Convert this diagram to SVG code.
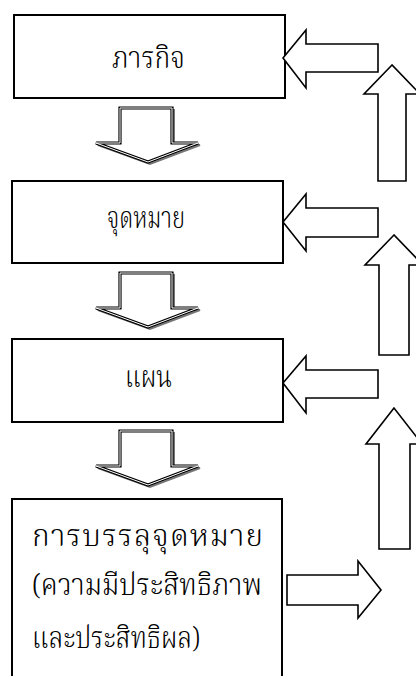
<svg xmlns="http://www.w3.org/2000/svg" width="416" height="676" viewBox="0 0 416 676">
<defs>
<style>
.box{fill:#fff;stroke:#000;stroke-width:2}
.arr{fill:#fff;stroke:#000;stroke-width:1.6;stroke-linejoin:miter}
.dshadow{fill:none;stroke:#777;stroke-width:2}
.dout{fill:#fff;stroke:#000;stroke-width:3.2}
.din{fill:none;stroke:#fff;stroke-width:1}
.t{font-family:"Norasi","Tlwg Typo","Noto Serif Thai","Noto Sans Thai","Liberation Serif","DejaVu Serif",serif;font-size:30px;font-weight:300;fill:#000}
</style>
<polygon id="down" points="120,108 172,108 172,143 198,143 148,162 96,143 120,143"/>
</defs>
<rect width="416" height="676" fill="#fff"/>
<g id="node-mission">
<rect class="box" x="14" y="15" width="271" height="83"/>
<text class="t" x="112" y="68" textLength="73" lengthAdjust="spacingAndGlyphs">ภารกิจ</text>
</g>
<g id="node-goal">
<rect class="box" x="12" y="181" width="271" height="82"/>
<text class="t" x="107" y="228" textLength="78" lengthAdjust="spacingAndGlyphs">จุดหมาย</text>
</g>
<g id="node-plan">
<rect class="box" x="12" y="339" width="271" height="83"/>
<text class="t" x="125" y="387" textLength="47" lengthAdjust="spacingAndGlyphs">แผน</text>
</g>
<g id="node-achieve">
<rect class="box" x="12" y="499" width="270" height="200"/>
<text class="t" x="32" y="546" textLength="231" lengthAdjust="spacing">การบรรลุจุดหมาย</text>
<text class="t" x="32" y="595" textLength="230" lengthAdjust="spacingAndGlyphs">(ความมีประสิทธิภาพ</text>
<text class="t" x="32" y="648" textLength="168" lengthAdjust="spacingAndGlyphs">และประสิทธิผล)</text>
</g>
<g id="connectors">
<g>
<use href="#down" class="dshadow" transform="translate(2,2)"/>
<use href="#down" class="dout"/>
<use href="#down" class="din"/>
</g>
<g transform="translate(0,165)">
<use href="#down" class="dshadow" transform="translate(2,2)"/>
<use href="#down" class="dout"/>
<use href="#down" class="din"/>
</g>
<g transform="translate(0,323)">
<use href="#down" class="dshadow" transform="translate(2,2)"/>
<use href="#down" class="dout"/>
<use href="#down" class="din"/>
</g>
<polygon class="arr" points="283,58 306,30 306,44 378,44 378,72 306,72 306,88"/>
<polygon class="arr" points="283,222 306,194 306,208 378,208 378,237 306,237 306,251"/>
<polygon class="arr" points="283,383 306,356 306,370 378,370 378,398 306,398 306,413"/>
<polygon class="arr" points="392,65 364,94 378,94 378,181 406,181 406,94 420,94"/>
<polygon class="arr" points="394,235 365,265 379,265 379,355 409,355 409,265 423,265"/>
<polygon class="arr" points="394,408 366,444 379,444 379,549 410,549 410,444 422,444"/>
<polygon class="arr" points="287,575 358,575 358,561 381,590 358,618 358,605 287,605"/>
</g>
</svg>
